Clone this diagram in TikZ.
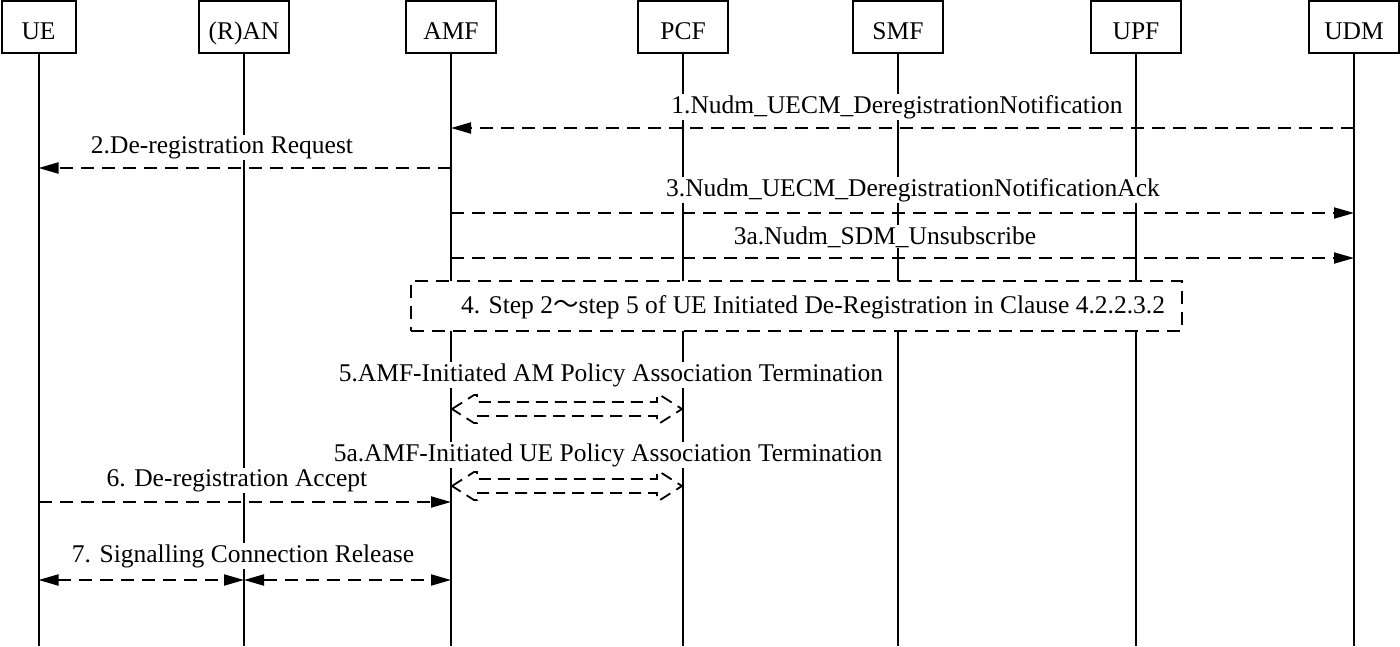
\documentclass[tikz,border=0pt]{standalone}
\usepackage{fontspec}
\setmainfont{Liberation Serif}
\newfontfamily\cjk{Noto Sans CJK SC}
\usetikzlibrary{arrows.meta}
\begin{document}
\begin{tikzpicture}[x=1pt,y=-1pt,
  font=\fontsize{25.5}{30}\selectfont,
  ent/.style={draw, line width=2pt, minimum height=52pt, inner sep=0pt, fill=white, text height=24pt, text depth=0pt},
  life/.style={line width=2pt},
  dsh/.style={line width=2pt, dash pattern=on 13pt off 8pt},
  msg/.style={dsh, -{Triangle[length=20pt,width=11pt]}},
  bmsg/.style={dsh, {Triangle[length=20pt,width=11pt]}-{Triangle[length=20pt,width=11pt]}},
  hollow/.style={line width=1.8pt, dash pattern=on 12pt off 7pt, line join=miter},
  lbl/.style={fill=white, inner sep=1pt, anchor=base},
]
\useasboundingbox (0,0) rectangle (1400,646);

% entities
\node[ent, minimum width=74pt] (ue)  at (38.5,27) {UE};
\node[ent, minimum width=90pt] (ran) at (244,27) {(R)AN};
\node[ent, minimum width=90pt] (amf) at (451,27) {AMF};
\node[ent, minimum width=90pt] (pcf) at (683,27) {PCF};
\node[ent, minimum width=90pt] (smf) at (898,27) {SMF};
\node[ent, minimum width=90pt] (upf) at (1136,27) {UPF};
\node[ent, minimum width=90pt] (udm) at (1354,27) {UDM};

% lifeline ends
\coordinate (bot) at (0,646);
\foreach \n in {ue,ran,amf,pcf,smf,upf,udm}{
  \draw[life] (\n.south) -- (\n.south |- bot);
}

% rows
\coordinate (r1) at (0,128);
\coordinate (r2) at (0,168);
\coordinate (r3) at (0,213);
\coordinate (r3a) at (0,258);
\coordinate (r5) at (0,409);
\coordinate (r5a) at (0,486);
\coordinate (r6) at (0,502);
\coordinate (r7) at (0,580);

% labels (white background interrupts lifelines)
\node[lbl] (l1) at (897,113) {1.Nudm\_UECM\_DeregistrationNotification};
\node[lbl] (l2) at (222,153) {2.De-registration Request};
\node[lbl] (l3) at (913,196) {3.Nudm\_UECM\_DeregistrationNotificationAck};
\node[lbl] (l3a) at (885,244) {3a.Nudm\_SDM\_Unsubscribe};
\node[lbl] (l5) at (611,381) {5.AMF-Initiated AM Policy Association Termination};
\node[lbl] (l5a) at (608,461) {5a.AMF-Initiated UE Policy Association Termination};
\node[lbl] (l6) at (237,486) {6. De-registration Accept};
\node[lbl] (l7) at (243,562) {7. Signalling Connection Release};

% messages
\draw[msg] (udm |- r1) -- (amf |- r1);
\draw[msg] (amf |- r2) -- (ue |- r2);
\draw[msg] (amf |- r3) -- (udm |- r3);
\draw[msg] (amf |- r3a) -- (udm |- r3a);
\draw[msg] (ue |- r6) -- (amf |- r6);
\draw[bmsg] (ue |- r7) -- (ran |- r7);
\draw[bmsg] (ran |- r7) -- (amf |- r7);

% step 4 box
\node[draw, dsh, fill=white, minimum width=771pt, minimum height=50pt, inner sep=0pt] (s4) at (796.5,306) {};
\node[anchor=base, inner sep=0pt] (s4t) at (813,313) {4. Step 2{\cjk ～}step 5 of UE Initiated De-Registration in Clause 4.2.2.3.2};

% hollow double arrows
\foreach \r in {r5,r5a}{
  \coordinate (L) at ([xshift=1pt]amf |- \r);
  \coordinate (R) at ([xshift=-1pt]pcf |- \r);
  \draw[hollow] (L) -- ([shift={(22,-14)}]L) -- ([shift={(25,-14)}]L) -- ([shift={(25,-7)}]L)
    -- ([shift={(-25,-7)}]R) -- ([shift={(-25,-14)}]R) -- ([shift={(-22,-14)}]R) -- (R)
    -- ([shift={(-22,14)}]R) -- ([shift={(-25,14)}]R) -- ([shift={(-25,7)}]R)
    -- ([shift={(25,7)}]L) -- ([shift={(25,14)}]L) -- ([shift={(22,14)}]L) -- cycle;
}
\end{tikzpicture}
\end{document}
